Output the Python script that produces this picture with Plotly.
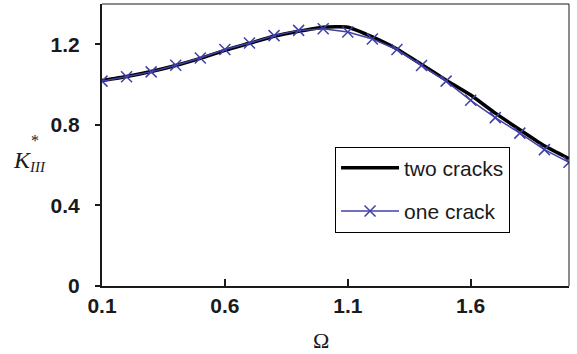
import plotly.graph_objects as go

omega = [0.1, 0.2, 0.3, 0.4, 0.5, 0.6, 0.7, 0.8, 0.9, 1.0,
         1.1, 1.2, 1.3, 1.4, 1.5, 1.6, 1.7, 1.8, 1.9, 2.0]
two_cracks = [1.02, 1.04, 1.065, 1.095, 1.13, 1.17, 1.205, 1.24, 1.265, 1.285,
              1.285, 1.237, 1.177, 1.10, 1.022, 0.948, 0.858, 0.776, 0.696, 0.632]
one_crack = [1.017, 1.039, 1.063, 1.096, 1.132, 1.174, 1.206, 1.243, 1.269, 1.277,
             1.261, 1.226, 1.174, 1.095, 1.017, 0.922, 0.836, 0.759, 0.677, 0.614]
x_ticks = [0.1, 0.6, 1.1, 1.6]
y_ticks = [0, 0.4, 0.8, 1.2]

fig = go.Figure()
fig.add_trace(go.Scatter(
    x=omega, y=two_cracks, mode="lines", name="two cracks",
    line=dict(color="black", width=3.5, shape="spline", smoothing=0.5),
    legendgroup="a"))
fig.add_trace(go.Scatter(
    x=omega, y=one_crack, mode="lines+markers", name="one crack",
    line=dict(color="#4040A8", width=1.5),
    marker=dict(symbol="x-thin", size=11, line=dict(color="#4040A8", width=1.5)),
    legendgroup="b"))

font_ticks = dict(family="Liberation Sans, Arial, sans-serif", size=21, color="#1a1a1a")

fig.update_layout(
    width=577, height=354,
    margin=dict(l=102, r=8, t=4, b=68, autoexpand=False),
    paper_bgcolor="white", plot_bgcolor="white",
    showlegend=True,
    legend=dict(
        x=0.499, y=(286 - 189.5) / 282, xanchor="left", yanchor="middle",
        bordercolor="black", borderwidth=1, bgcolor="white",
        font=dict(family="Liberation Sans, Arial, sans-serif", size=21, color="#1a1a1a"),
        traceorder="grouped", tracegroupgap=13,
        itemwidth=58,
    ),
    xaxis=dict(
        range=[0.1, 2.0], tickvals=x_ticks, ticktext=[str(v) for v in x_ticks],
        showgrid=False, zeroline=False,
        showline=True, linecolor="#1a1a1a", linewidth=2,
        ticks="inside", ticklen=7, tickcolor="#1a1a1a", tickwidth=1.5,
        tickfont=dict(**font_ticks, weight="bold"),
        ticklabelstandoff=0,
    ),
    yaxis=dict(
        range=[0, 1.4], tickvals=y_ticks, ticktext=["0", "0.4", "0.8", "1.2"],
        showgrid=False, zeroline=False,
        showline=True, linecolor="#1a1a1a", linewidth=2,
        ticks="outside", ticklen=5, tickcolor="#1a1a1a", tickwidth=1.5,
        tickfont=dict(**font_ticks, weight="bold"),
        ticklabelstandoff=11,
    ),
    shapes=[
        dict(type="line", xref="paper", yref="paper", x0=0, x1=1, y0=1, y1=1,
             line=dict(color="#1a1a1a", width=1)),
        dict(type="line", xref="paper", yref="paper", x0=1, x1=1, y0=0, y1=1,
             line=dict(color="#1a1a1a", width=1)),
    ],
    annotations=[
        dict(text="Ω", xref="paper", yref="paper", x=(321 - 102) / 467, y=-(340 - 286) / 282,
             showarrow=False, font=dict(family="Liberation Serif, Times New Roman, serif", size=22, color="#1a1a1a"),
             xanchor="center", yanchor="middle"),
        dict(text="<i>K</i>", xref="paper", yref="paper", x=-(102 - 22) / 467, y=(286 - 160) / 282,
             showarrow=False, font=dict(family="Liberation Serif, Times New Roman, serif", size=24, color="#1a1a1a"),
             xanchor="center", yanchor="middle"),
        dict(text="*", xref="paper", yref="paper", x=-(102 - 35) / 467, y=(286 - 140) / 282,
             showarrow=False, font=dict(family="Liberation Serif, Times New Roman, serif", size=16, color="#1a1a1a"),
             xanchor="center", yanchor="middle"),
        dict(text="<i>III</i>", xref="paper", yref="paper", x=-(102 - 37) / 467, y=(286 - 167) / 282,
             showarrow=False, font=dict(family="Liberation Serif, Times New Roman, serif", size=15, color="#1a1a1a"),
             xanchor="center", yanchor="middle"),
    ],
)

fig.write_html("out.html", config={"displayModeBar": False},
               post_script="document.body.style.margin='0';")
